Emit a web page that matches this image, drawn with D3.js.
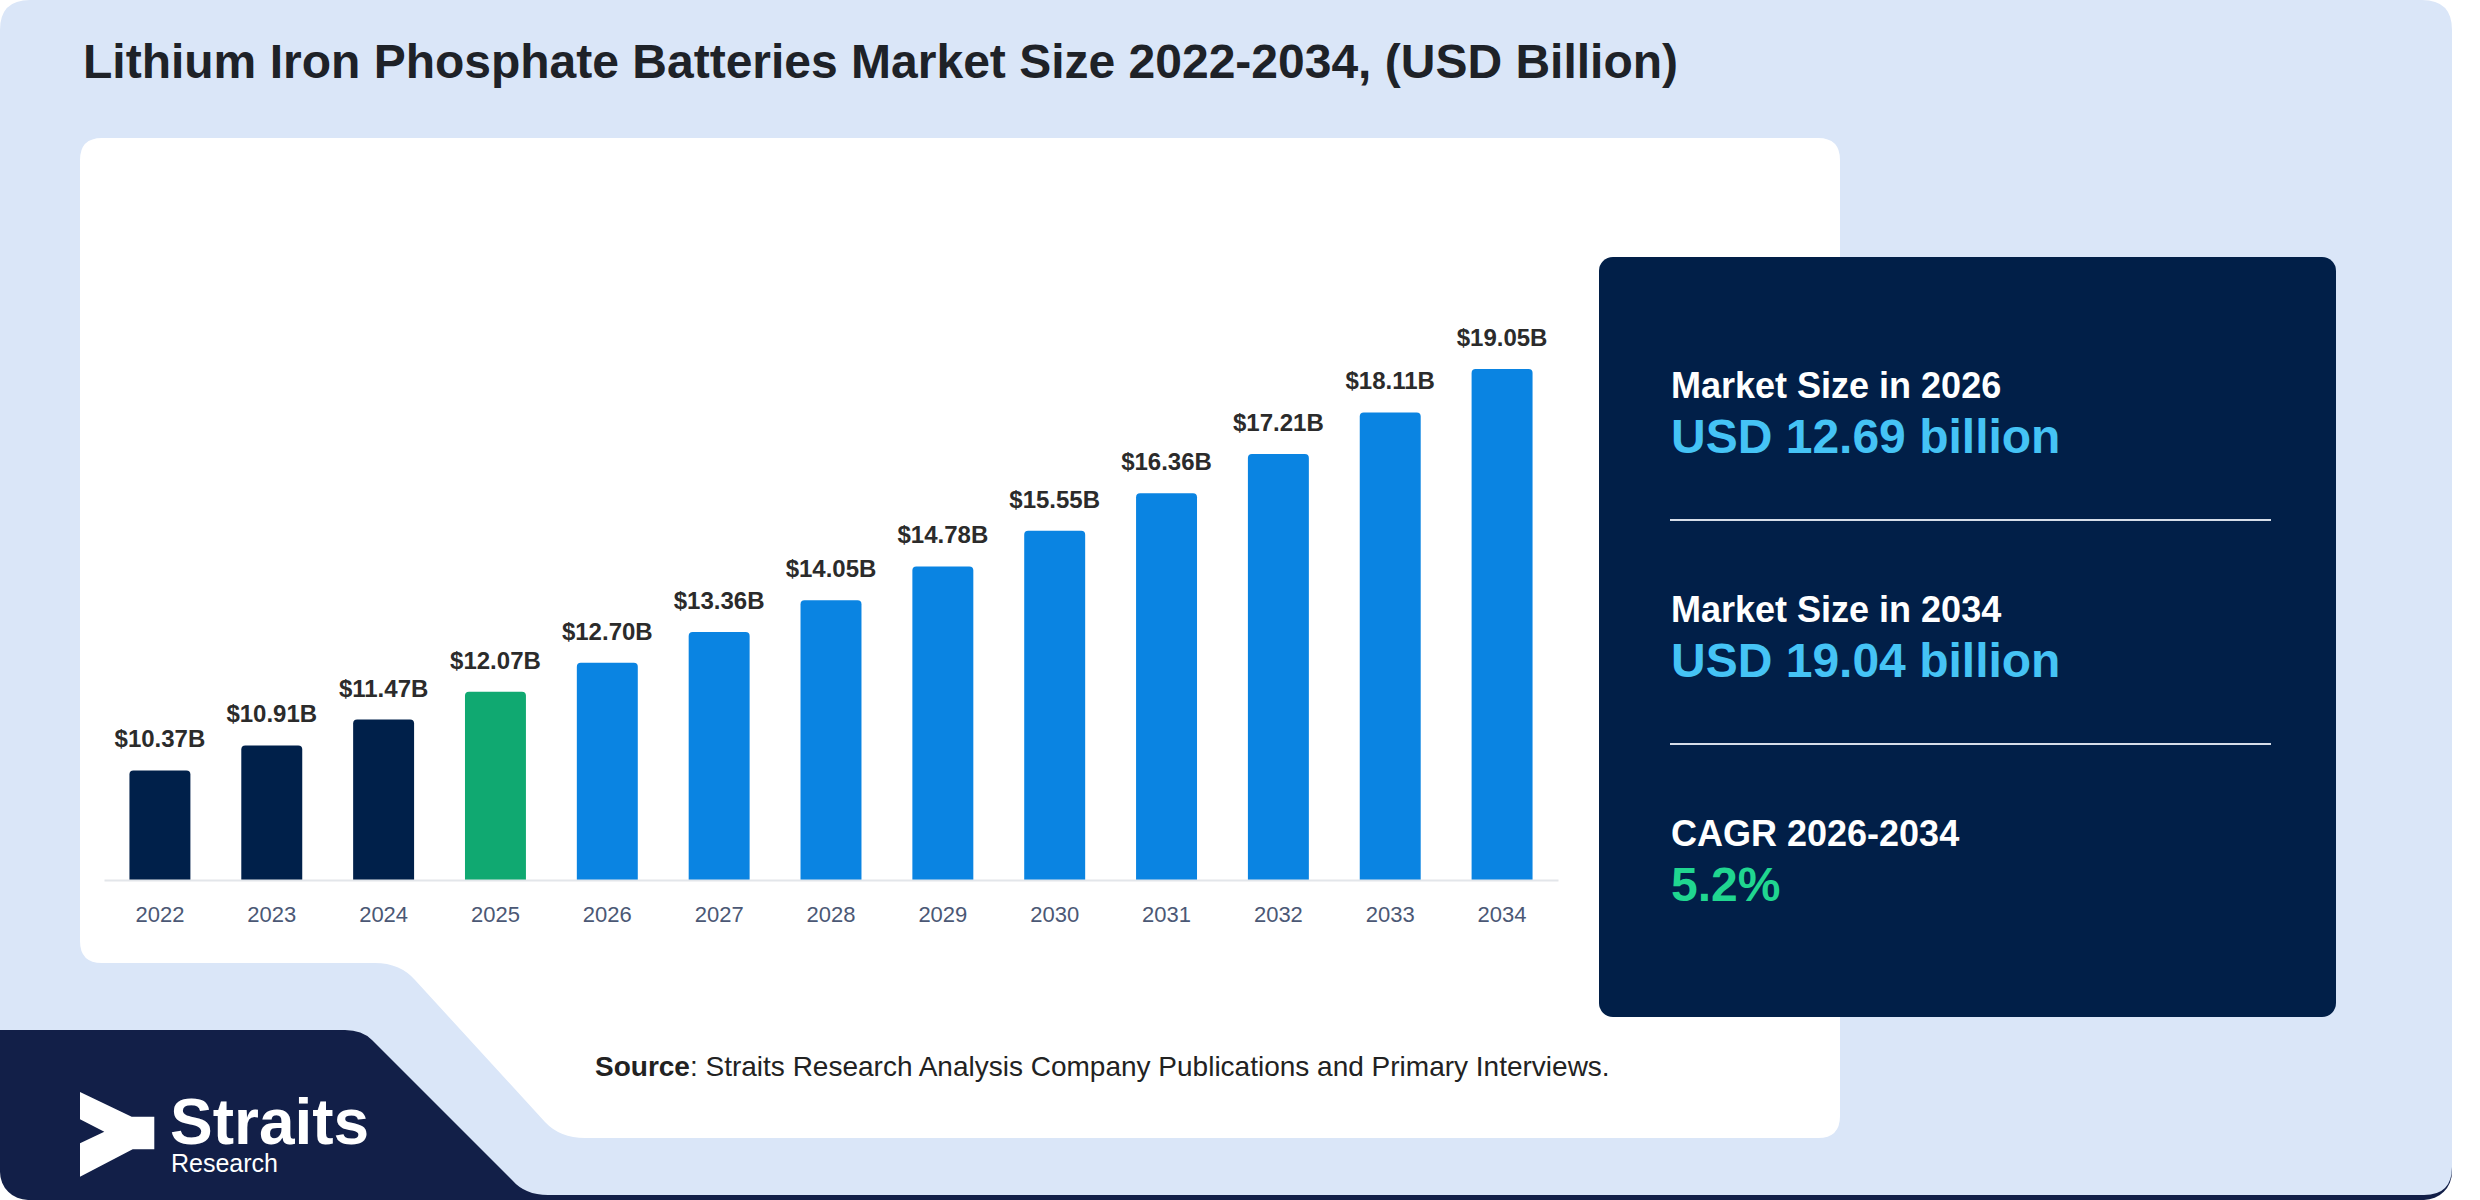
<!DOCTYPE html>
<html>
<head>
<meta charset="utf-8">
<script src="https://cdn.jsdelivr.net/npm/d3@7"></script>
<style>
  html, body { margin: 0; padding: 0; background: #ffffff; }
  svg { display: block; }
  text { font-family: "Liberation Sans", Arial, sans-serif; }
</style>
</head>
<body>
<svg id="chart" width="2480" height="1200"></svg>
<script>
// ---------------- DATA ----------------
const years = ["2022","2023","2024","2025","2026","2027","2028","2029","2030","2031","2032","2033","2034"];
const values = [10.37, 10.91, 11.47, 12.07, 12.70, 13.36, 14.05, 14.78, 15.55, 16.36, 17.21, 18.11, 19.05];
const periods = ["historical","historical","historical","base","forecast","forecast","forecast","forecast","forecast","forecast","forecast","forecast","forecast"];
const infoLabels = ["Market Size in 2026", "Market Size in 2034", "CAGR 2026-2034"];
const infoValues = ["USD 12.69 billion", "USD 19.04 billion", "5.2%"];
const infoValueKinds = ["size", "size", "cagr"];
const titleText = "Lithium Iron Phosphate Batteries Market Size 2022-2034, (USD Billion)";
const sourceBold = "Source";
const sourceRest = ": Straits Research Analysis Company Publications and Primary Interviews.";

// ---------------- STYLE ----------------
const periodColor = { historical: "#00204a", base: "#10a971", forecast: "#0a84e2" };
const infoValueColor = { size: "#45c3f5", cagr: "#20d690" };

const svg = d3.select("#chart");

// ---------------- BACKGROUND ----------------
svg.append("rect").attr("x", 0).attr("y", 900).attr("width", 2452).attr("height", 300)
  .attr("rx", 28).attr("fill", "#121f48");

svg.append("path").attr("fill", "#dae6f8").attr("d",
  "M0,30 Q0,0 30,0 H2422 Q2452,0 2452,30 V1167 Q2452,1195 2424,1195 H548 Q525,1195 512,1180 " +
  "L372,1040 Q362,1030 345,1030 H0 Z");

svg.append("path").attr("fill", "#ffffff").attr("d",
  "M80,160 Q80,138 102,138 H1818 Q1840,138 1840,160 V1116 Q1840,1138 1818,1138 H585 Q560,1138 545,1122 " +
  "L415,980 Q400,963 375,963 H102 Q80,963 80,941 Z");

svg.append("text").attr("x", 83).attr("y", 78)
  .attr("font-size", 48).attr("font-weight", "bold").attr("fill", "#1e2228")
  .text(titleText);

// ---------------- CHART ----------------
const x = d3.scaleBand().domain(years).range([104, 1558]).paddingInner(0.455).paddingOuter(0.2275);
const y = d3.scaleLinear().domain([8, 20]).range([880, 325]);

const r = 4;
function barPath(d, i) {
  const x0 = x(years[i]), w = x.bandwidth(), y0 = y(d), yb = y(8);
  return `M${x0},${yb} V${y0 + r} Q${x0},${y0} ${x0 + r},${y0} H${x0 + w - r} Q${x0 + w},${y0} ${x0 + w},${y0 + r} V${yb} Z`;
}

const g = svg.append("g");
g.selectAll("path.bar").data(values).enter().append("path")
  .attr("class", "bar")
  .attr("d", (d, i) => barPath(d, i))
  .attr("fill", (d, i) => periodColor[periods[i]]);

const axis = g.append("g").attr("transform", `translate(0,${y(8)})`)
  .call(d3.axisBottom(x).tickSize(0).tickSizeOuter(0).tickPadding(26));
axis.select(".domain").attr("stroke", "#e3e6ea").attr("stroke-width", 2);
axis.selectAll(".tick text")
  .attr("font-family", "'Liberation Sans', Arial, sans-serif")
  .attr("font-size", 22).attr("fill", "#4b5875");

g.selectAll("text.val").data(values).enter().append("text")
  .attr("class", "val")
  .attr("x", (d, i) => x(years[i]) + x.bandwidth() / 2)
  .attr("y", d => y(d) - 23)
  .attr("text-anchor", "middle")
  .attr("font-size", 24).attr("font-weight", "bold").attr("fill", "#2b2b2b")
  .text(d => "$" + d.toFixed(2) + "B");

const src = svg.append("text").attr("x", 595).attr("y", 1076)
  .attr("font-size", 28).attr("fill", "#222222");
src.append("tspan").attr("font-weight", "bold").text(sourceBold);
src.append("tspan").text(sourceRest);

// ---------------- INFO PANEL ----------------
svg.append("rect").attr("x", 1599).attr("y", 257).attr("width", 737).attr("height", 760)
  .attr("rx", 14).attr("fill", "#011f48");

const info = svg.append("g");
infoLabels.forEach((lab, i) => {
  const by = 398 + i * 224;
  info.append("text").attr("x", 1671).attr("y", by)
    .attr("font-size", 36).attr("font-weight", "bold").attr("fill", "#ffffff").text(lab);
  info.append("text").attr("x", 1671).attr("y", by + 55)
    .attr("font-size", 48).attr("font-weight", "bold").attr("fill", infoValueColor[infoValueKinds[i]])
    .text(infoValues[i]);
  if (i < infoLabels.length - 1) {
    info.append("line").attr("x1", 1670).attr("x2", 2271).attr("y1", by + 122).attr("y2", by + 122)
      .attr("stroke", "#d6dde8").attr("stroke-width", 2);
  }
});

// ---------------- LOGO ----------------
const logo = svg.append("g");
logo.append("polygon").attr("fill", "#ffffff").attr("points",
  "80,1092 131.7,1116.7 154.3,1116.7 154.3,1149.3 132.7,1149.3 80,1176.7 80,1143.3 104.3,1131.7 80,1119.3");
const logoText = logo.append("text")
  .attr("font-family", "'Open Sans', 'Noto Sans', sans-serif")
  .attr("fill", "#ffffff");
logoText.append("tspan").attr("x", 170).attr("y", 1144)
  .attr("font-size", 64).attr("font-weight", "bold").text("Straits");
logoText.append("tspan").attr("x", 171).attr("y", 1172)
  .attr("font-size", 25).attr("font-weight", "normal").text("Research");
</script>
</body>
</html>
